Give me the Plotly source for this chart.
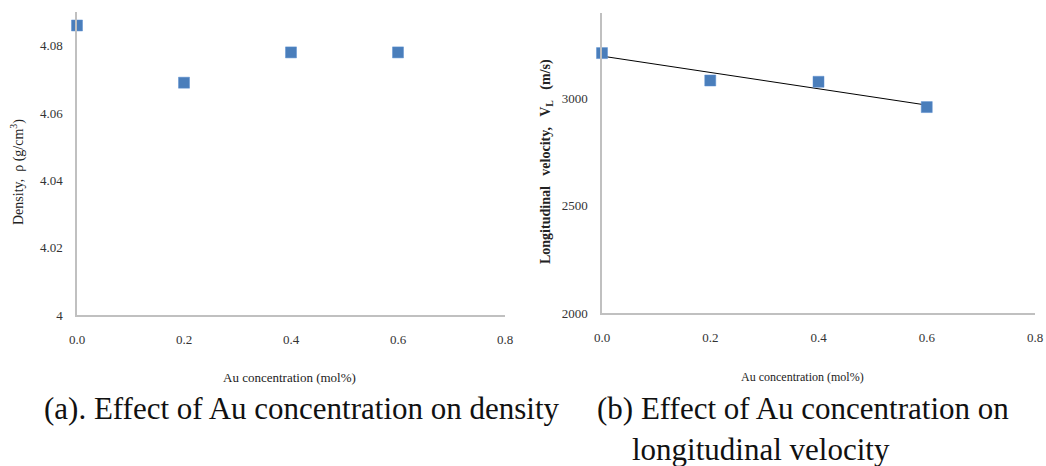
import numpy as np
import plotly.graph_objects as go

# ---- data ----
au_conc = [0.0, 0.2, 0.4, 0.6]
density = [4.086, 4.069, 4.078, 4.078]
velocity_L = [3213, 3085, 3079, 2961]

x_tickvals = [0.0, 0.2, 0.4, 0.6, 0.8]
x_ticktext = ["0.0", "0.2", "0.4", "0.6", "0.8"]
dens_tickvals = [4.0, 4.02, 4.04, 4.06, 4.08]
dens_ticktext = ["4", "4.02", "4.04", "4.06", "4.08"]
vel_tickvals = [2000, 2500, 3000]
vel_ticktext = ["2000", "2500", "3000"]

# linear trendline for velocity (least squares)
slope, intercept = np.polyfit(au_conc, velocity_L, 1)
trend_x = [min(au_conc), max(au_conc)]
trend_y = [intercept + slope * v for v in trend_x]

W, H = 1046, 466
def px(x):
    return x / W
def py(y):
    return 1 - y / H

BLUE = "#4a7ebb"
AXIS = "#c0c0c0"
TNR = "Liberation Serif, Times New Roman, serif"

fig = go.Figure()
fig.add_trace(go.Scatter(x=au_conc, y=density, mode="markers", cliponaxis=False,
                         marker=dict(symbol="square", size=11, color=BLUE,
                                     line=dict(color="#5b8fd0", width=0.5)),
                         xaxis="x", yaxis="y", showlegend=False))
fig.add_trace(go.Scatter(x=trend_x, y=trend_y, mode="lines", cliponaxis=False,
                         line=dict(color="#000000", width=1),
                         xaxis="x2", yaxis="y2", showlegend=False))
fig.add_trace(go.Scatter(x=au_conc, y=velocity_L, mode="markers", cliponaxis=False,
                         marker=dict(symbol="square", size=11, color=BLUE,
                                     line=dict(color="#5b8fd0", width=0.5)),
                         xaxis="x2", yaxis="y2", showlegend=False))

tickfont = dict(family=TNR, size=13, color="#333333")
common_x = dict(range=[0, 0.8], tickvals=x_tickvals, ticktext=x_ticktext,
                showgrid=False, zeroline=False, showline=True, linecolor=AXIS,
                linewidth=1.5, ticks="", tickfont=tickfont, ticklabelstandoff=12,
                automargin=False, fixedrange=True)
common_y = dict(showgrid=False, zeroline=False, showline=True, linecolor=AXIS,
                linewidth=1.5, ticks="", tickfont=tickfont, ticklabelstandoff=10,
                automargin=False, fixedrange=True)

fig.update_layout(
    width=W, height=H,
    font=dict(family=TNR),
    margin=dict(l=0, r=0, t=0, b=0, autoexpand=False),
    paper_bgcolor="white", plot_bgcolor="white",
    xaxis=dict(domain=[px(77), px(505)], anchor="y", **common_x),
    yaxis=dict(domain=[py(315), py(12)], anchor="x", range=[4.0, 4.09],
               tickvals=dens_tickvals, ticktext=dens_ticktext, **common_y),
    xaxis2=dict(domain=[px(602), px(1035)], anchor="y2", **common_x),
    yaxis2=dict(domain=[py(313), py(13)], anchor="x2", range=[2000, 3400],
                tickvals=vel_tickvals, ticktext=vel_ticktext, **common_y),
)

ann = []
ann.append(dict(x=px(17), y=py(172), text="Density,&nbsp; ρ (g/cm<sup>3</sup>)",
                textangle=-90, font=dict(family=TNR, size=14, color="#222222")))
ann.append(dict(x=px(547), y=py(162),
                text="<b>Longitudinal&nbsp;&nbsp; velocity,&nbsp;&nbsp; V<sub>L</sub>&nbsp;&nbsp; (m/s)</b>",
                textangle=-90, font=dict(family=TNR, size=14, color="#222222")))
ann.append(dict(x=px(289), y=py(377), text="Au concentration (mol%)",
                font=dict(family=TNR, size=13, color="#222222")))
ann.append(dict(x=px(802), y=py(377), text="Au concentration (mol%)",
                font=dict(family=TNR, size=12, color="#222222")))
cap_font = dict(family=TNR, size=31, color="#111111")
ann.append(dict(x=px(42), y=py(408), text="(a). Effect of Au concentration on density",
                xanchor="left", font=cap_font))
ann.append(dict(x=px(595), y=py(408), text="(b) Effect of Au concentration on",
                xanchor="left", font=cap_font))
ann.append(dict(x=px(630), y=py(449), text="longitudinal velocity",
                xanchor="left", font=cap_font))
for a in ann:
    a.update(xref="paper", yref="paper", showarrow=False)
    a.setdefault("xanchor", "center")
    a.setdefault("yanchor", "middle")
fig.update_layout(annotations=ann)

fig.write_html("out.html")
